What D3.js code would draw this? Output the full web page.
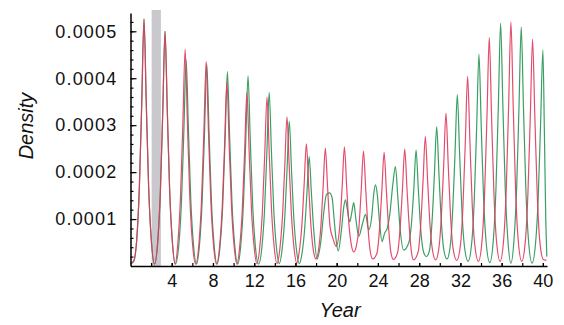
<!DOCTYPE html>
<html>
<meta charset="utf-8">
<title>Density by year</title>
<style>
  body { margin: 0; background: #fff; }
  svg { display: block; font-family: "Liberation Sans", Arial, sans-serif; }
  .axis path, .axis line { stroke: #000; }
  .axis path { stroke-width: 1.5; }
  .axis line { stroke-width: 1.2; }
  .axis text { font-size: 18px; fill: #111; }
  .title { font-size: 20px; font-style: italic; fill: #111; }
  .curve { fill: none; stroke-width: 1.2; }
</style>
<body>
<div id="chart"></div>
<script src="https://cdn.jsdelivr.net/npm/d3@7"></script>
<script>

// years labelled on the x axis, minor ticks every 2 years
const xLabels = [4, 8, 12, 16, 20, 24, 28, 32, 36, 40];
const xMinor = d3.range(2, 41, 2);
// densities labelled on the y axis
const yLabels = [0.0001, 0.0002, 0.0003, 0.0004, 0.0005];
// shaded band (years)
const shadedYears = [2.05, 2.95];

// curves: [year, density in units of 1e-4]
const redPoints = [
  [0, 0.05], [0.3, 0.1], [0.61, 0.58], [0.86, 1.68], [1.09, 3.47], [1.31, 5.26], [1.53, 3.47], [1.76, 1.68], [2.01, 0.58], [2.33, 0.04],
  [2.65, 0.55], [2.9, 1.6], [3.13, 3.3], [3.35, 5.0], [3.57, 3.3], [3.8, 1.6], [4.05, 0.55], [4.33, 0.04],
  [4.6, 0.51], [4.85, 1.48], [5.08, 3.05], [5.3, 4.62], [5.52, 3.05], [5.75, 1.48], [6.0, 0.51], [6.32, 0.04],
  [6.64, 0.48], [6.89, 1.4], [7.12, 2.88], [7.34, 4.36], [7.56, 2.88], [7.79, 1.4], [8.04, 0.48], [8.35, 0.04],
  [8.65, 0.43], [8.9, 1.26], [9.13, 2.59], [9.35, 3.93], [9.57, 2.59], [9.8, 1.26], [10.05, 0.43], [10.32, 0.04],
  [10.59, 0.41], [10.84, 1.18], [11.07, 2.44], [11.29, 3.7], [11.51, 2.44], [11.74, 1.18], [11.99, 0.41], [12.27, 0.05],
  [12.54, 0.4], [12.79, 1.15], [13.02, 2.38], [13.24, 3.6], [13.46, 2.38], [13.69, 1.15], [13.94, 0.4], [14.21, 0.05],
  [14.48, 0.35], [14.73, 1.02], [14.96, 2.1], [15.18, 3.18], [15.4, 2.1], [15.63, 1.02], [15.88, 0.35], [16.12, 0.06],
  [16.36, 0.29], [16.61, 0.83], [16.84, 1.72], [17.06, 2.6], [17.28, 1.72], [17.51, 0.83], [17.76, 0.3], [18.0, 0.15],
  [18.22, 0.32], [18.45, 0.8], [18.68, 1.66], [18.9, 2.51], [19.12, 1.66], [19.35, 0.85], [19.62, 0.6], [19.95, 0.42],
  [20.3, 0.85], [20.53, 1.68], [20.75, 2.54], [20.97, 1.68], [21.2, 0.85], [21.42, 0.45], [21.65, 0.3],
  [21.9, 0.42], [22.15, 0.8], [22.38, 1.62], [22.6, 2.45], [22.82, 1.62], [23.05, 0.78], [23.25, 0.32], [23.5, 0.15],
  [23.9, 0.27], [24.15, 0.77], [24.38, 1.6], [24.6, 2.42], [24.82, 1.6], [25.05, 0.77], [25.25, 0.3], [25.5, 0.14],
  [25.9, 0.28], [26.15, 0.8], [26.38, 1.64], [26.6, 2.49], [26.82, 1.64], [27.05, 0.8], [27.25, 0.3], [27.45, 0.13],
  [27.9, 0.3], [28.15, 0.88], [28.38, 1.82], [28.6, 2.76], [28.82, 1.82], [29.05, 0.88], [29.3, 0.33], [29.6, 0.13],
  [29.9, 0.36], [30.15, 1.04], [30.38, 2.15], [30.6, 3.26], [30.82, 2.15], [31.05, 1.04], [31.3, 0.36], [31.65, 0.12],
  [32.0, 0.44], [32.25, 1.29], [32.48, 2.67], [32.7, 4.04], [32.92, 2.67], [33.15, 1.29], [33.4, 0.44], [33.75, 0.1],
  [34.1, 0.54], [34.35, 1.56], [34.58, 3.21], [34.8, 4.87], [35.02, 3.21], [35.25, 1.56], [35.5, 0.54], [35.85, 0.1],
  [36.2, 0.57], [36.45, 1.66], [36.68, 3.43], [36.9, 5.2], [37.12, 3.43], [37.35, 1.66], [37.6, 0.57], [37.95, 0.1],
  [38.3, 0.53], [38.55, 1.55], [38.78, 3.19], [39.0, 4.83], [39.22, 3.19], [39.45, 1.55], [39.7, 0.53], [40.05, 0.14], [40.35, 0.12]
];

const greenPoints = [
  [0, 0.05], [0.3, 0.1], [0.61, 0.58], [0.86, 1.68], [1.09, 3.47], [1.31, 5.26], [1.53, 3.47], [1.76, 1.68], [2.01, 0.58], [2.33, 0.04],
  [2.65, 0.55], [2.9, 1.6], [3.13, 3.3], [3.35, 5.0], [3.57, 3.3], [3.8, 1.6], [4.05, 0.55], [4.35, 0.04],
  [4.7, 0.48], [4.95, 1.4], [5.18, 2.9], [5.4, 4.39], [5.62, 2.9], [5.85, 1.4], [6.1, 0.48], [6.4, 0.04],
  [6.7, 0.47], [6.95, 1.38], [7.18, 2.84], [7.4, 4.3], [7.62, 2.84], [7.85, 1.38], [8.1, 0.47], [8.4, 0.04],
  [8.7, 0.46], [8.95, 1.32], [9.18, 2.73], [9.4, 4.14], [9.62, 2.73], [9.85, 1.32], [10.1, 0.46], [10.4, 0.04],
  [10.7, 0.45], [10.95, 1.3], [11.18, 2.67], [11.4, 4.05], [11.62, 2.67], [11.85, 1.3], [12.1, 0.45], [12.42, 0.04],
  [12.75, 0.41], [13.0, 1.18], [13.23, 2.44], [13.45, 3.7], [13.67, 2.44], [13.9, 1.18], [14.15, 0.41], [14.42, 0.05],
  [14.7, 0.34], [14.95, 0.99], [15.18, 2.03], [15.4, 3.08], [15.62, 2.03], [15.85, 0.99], [16.1, 0.34], [16.37, 0.05],
  [16.63, 0.26], [16.88, 0.75], [17.11, 1.54], [17.33, 2.33], [17.55, 1.54], [17.78, 0.75], [18.1, 0.15],
  [18.45, 0.5], [18.75, 1.15], [19.0, 1.52], [19.3, 1.56], [19.55, 1.46], [19.75, 1.0], [19.92, 0.6], [20.15, 0.32],
  [20.45, 0.75], [20.68, 1.25], [20.85, 1.41], [21.02, 1.22], [21.27, 0.94], [21.45, 1.12], [21.65, 1.35], [21.85, 1.02],
  [22.14, 0.63], [22.5, 0.9], [22.8, 1.1], [23.1, 0.77], [23.4, 1.05], [23.6, 1.55], [23.77, 1.73], [23.95, 1.5],
  [24.15, 0.95], [24.4, 0.52], [24.65, 0.7], [24.9, 0.8], [25.15, 1.1], [25.45, 1.75], [25.7, 2.12], [25.92, 1.5],
  [26.15, 0.8], [26.5, 0.34],
  [27.0, 0.5], [27.25, 0.9], [27.48, 1.63], [27.7, 2.47], [27.92, 1.63], [28.15, 0.79], [28.4, 0.32], [28.7, 0.2],
  [29.0, 0.33], [29.25, 0.95], [29.48, 1.96], [29.7, 2.97], [29.92, 1.96], [30.15, 0.95], [30.4, 0.33], [30.7, 0.15],
  [31.0, 0.4], [31.25, 1.17], [31.48, 2.41], [31.7, 3.65], [31.92, 2.41], [32.15, 1.17], [32.4, 0.4], [32.75, 0.1],
  [33.1, 0.5], [33.35, 1.44], [33.58, 2.98], [33.8, 4.51], [34.02, 2.98], [34.25, 1.44], [34.5, 0.5], [34.85, 0.07],
  [35.2, 0.57], [35.45, 1.65], [35.68, 3.41], [35.9, 5.17], [36.12, 3.41], [36.35, 1.65], [36.6, 0.57], [36.9, 0.06],
  [37.2, 0.56], [37.45, 1.63], [37.68, 3.36], [37.9, 5.09], [38.12, 3.36], [38.35, 1.63], [38.6, 0.56], [38.95, 0.06],
  [39.3, 0.51], [39.55, 1.47], [39.78, 3.04], [40.0, 4.6], [40.15, 2.8], [40.28, 1.0], [40.38, 0.2]
];

const unit = 1e-4;
const series = [
  { name: 'green', color: '#2e9a5c', values: greenPoints },
  { name: 'red', color: '#e0395c', values: redPoints }
];

const margin = { top: 13, right: 17, bottom: 59, left: 130.5 };
const width = 564 - margin.left - margin.right;
const height = 325 - margin.top - margin.bottom;

const svg = d3.select('#chart').append('svg')
  .attr('width', 564)
  .attr('height', 325);

const g = svg.append('g')
  .attr('transform', `translate(${margin.left},${margin.top})`);

const x = d3.scaleLinear().domain([0, 40.4]).range([0, width]);
const y = d3.scaleLinear().domain([0, 0.000539]).range([height, 0]);

// grey band
g.append('rect')
  .attr('x', x(shadedYears[0]))
  .attr('width', x(shadedYears[1]) - x(shadedYears[0]))
  .attr('y', -3)
  .attr('height', height + 3)
  .attr('fill', '#c9c9cd');

const line = d3.line()
  .x(d => x(d[0]))
  .y(d => y(d[1] * unit))
  .curve(d3.curveMonotoneX);

g.selectAll('.curve')
  .data(series)
  .enter().append('path')
  .attr('class', 'curve')
  .attr('stroke', d => d.color)
  .attr('stroke-opacity', d => d.name === 'red' ? 0.9 : 0.95)
  .attr('d', d => line(d.values));

// x axis: minor ticks every 2 years, labels every 4
g.append('g')
  .attr('class', 'axis')
  .attr('transform', `translate(0,${height})`)
  .call(d3.axisBottom(x).tickValues(xMinor).tickSize(-3).tickSizeOuter(0).tickFormat(''));

const xAxis = g.append('g')
  .attr('class', 'axis')
  .attr('transform', `translate(0,${height})`)
  .call(d3.axisBottom(x).tickValues(xLabels).tickSize(-3).tickSizeOuter(0).tickPadding(8));
xAxis.select('.domain').remove();

// y axis: minor ticks every 0.00002
g.append('g')
  .attr('class', 'axis')
  .call(d3.axisLeft(y).tickValues(d3.range(1, 27).map(i => i * 0.00002)).tickSize(-3).tickSizeOuter(0).tickFormat(''));

const yAxis = g.append('g')
  .attr('class', 'axis')
  .call(d3.axisLeft(y).tickValues(yLabels).tickSize(-6).tickSizeOuter(0).tickPadding(13).tickFormat(d3.format('.4f')));
yAxis.select('.domain').remove();
yAxis.selectAll('text').attr('letter-spacing', '1.2px');

// titles
svg.append('text')
  .attr('class', 'title')
  .attr('x', 340)
  .attr('y', 317)
  .attr('text-anchor', 'middle')
  .text('Year');

svg.append('text')
  .attr('class', 'title')
  .attr('transform', 'translate(33,126) rotate(-90)')
  .attr('text-anchor', 'middle')
  .text('Density');

</script>
</body>
</html>
